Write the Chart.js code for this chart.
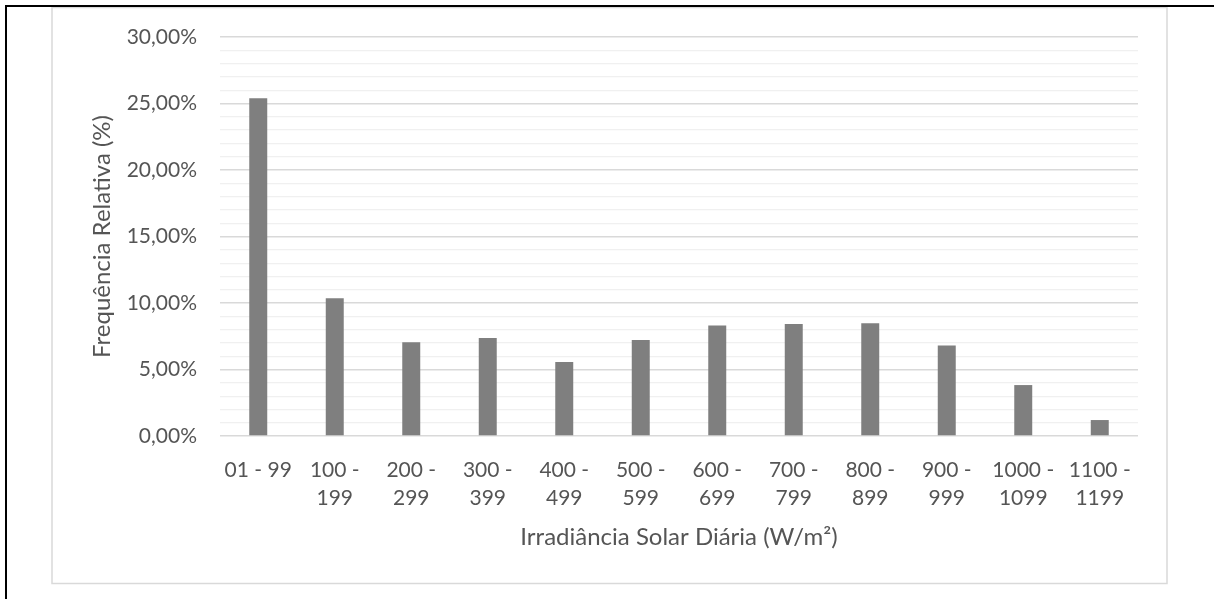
<!DOCTYPE html>
<html>
<head>
<meta charset="utf-8">
<title>Irradiância Solar Diária</title>
<script src="https://cdn.jsdelivr.net/npm/chart.js@4/dist/chart.umd.min.js"></script>
<style>
  body { margin: 0; background: #fff; }
  #wrap { width: 1214px; height: 599px; }
</style>
</head>
<body>
<div id="wrap"><canvas id="myChart" width="1214" height="599"></canvas></div>
<script>
// faixas de irradiância e frequência relativa (%)
var faixas = [
    '01 - 99', ['100 -', '199'], ['200 -', '299'], ['300 -', '399'],
    ['400 -', '499'], ['500 -', '599'], ['600 -', '699'], ['700 -', '799'],
    ['800 -', '899'], ['900 -', '999'], ['1000 -', '1099'], ['1100 -', '1199']
];
var freq = [25.4, 10.35, 7.05, 7.37, 5.56, 7.22, 8.3, 8.42, 8.48, 6.8, 3.83, 1.2];
var yMin = 0, yMax = 30, yStep = 1, yLabelStep = 5;

var tituloX = 'Irradiância Solar Diária (W/m²)';
var tituloY = 'Frequência Relativa (%)';

var txt = '#555555';
var fonte = { family: 'Lato', size: 21 };
var fonteTitulo = { family: 'Lato', size: 24 };

// moldura da figura e borda da área do gráfico
const moldura = {
    id: 'moldura',
    beforeDraw(chart) {
        const c = chart.ctx;
        c.save();
        c.fillStyle = '#ffffff';
        c.fillRect(0, 0, chart.width, chart.height);
        c.strokeStyle = '#d9d9d9';
        c.lineWidth = 1.5;
        c.strokeRect(52, 7.5, 1115, 576);
        c.fillStyle = '#000000';
        c.fillRect(5, 5, 2, chart.height - 5);
        c.fillRect(5, 5, chart.width - 5, 2);
        c.restore();
    }
};

const ctx = document.getElementById('myChart').getContext('2d');
const myChart = new Chart(ctx, {
    type: 'bar',
    data: {
        labels: faixas,
        datasets: [{
            label: 'Frequência Relativa',
            data: freq,
            backgroundColor: '#7f7f7f',
            borderWidth: 0,
            categoryPercentage: 1,
            barPercentage: 0.235
        }]
    },
    plugins: [moldura],
    options: {
        responsive: false,
        animation: false,
        layout: { padding: { left: 0, top: 37, right: 76, bottom: 0 } },
        plugins: {
            legend: { display: false },
            tooltip: { enabled: false }
        },
        scales: {
            x: {
                grid: { display: false },
                border: { display: false },
                ticks: {
                    color: txt,
                    font: { family: 'Lato', size: 21, lineHeight: 1.333 },
                    padding: 12,
                    maxRotation: 0,
                    autoSkip: false
                },
                title: {
                    display: true,
                    text: tituloX,
                    color: txt,
                    font: fonteTitulo,
                    padding: { top: 0, bottom: 47 }
                },
                afterFit: function(scale) { scale.height = 163; }
            },
            y: {
                min: yMin,
                max: yMax,
                border: { display: false },
                grid: {
                    drawTicks: false,
                    color: function(c) {
                        return c.tick.value % yLabelStep === 0 ? '#d9d9d9' : '#f0f0f0';
                    },
                    lineWidth: function(c) {
                        return c.tick.value % yLabelStep === 0 ? 1.5 : 1.2;
                    }
                },
                ticks: {
                    stepSize: yStep,
                    autoSkip: false,
                    color: txt,
                    font: fonte,
                    padding: 23,
                    callback: function(v) {
                        if (v % yLabelStep !== 0) return '';
                        return v.toFixed(2).replace('.', ',') + '%';
                    }
                },
                title: {
                    display: true,
                    text: tituloY,
                    color: txt,
                    font: fonteTitulo,
                    padding: { top: 88, bottom: 0 }
                },
                afterFit: function(scale) { scale.width = 220; }
            }
        }
    }
});
</script>
</body>
</html>
